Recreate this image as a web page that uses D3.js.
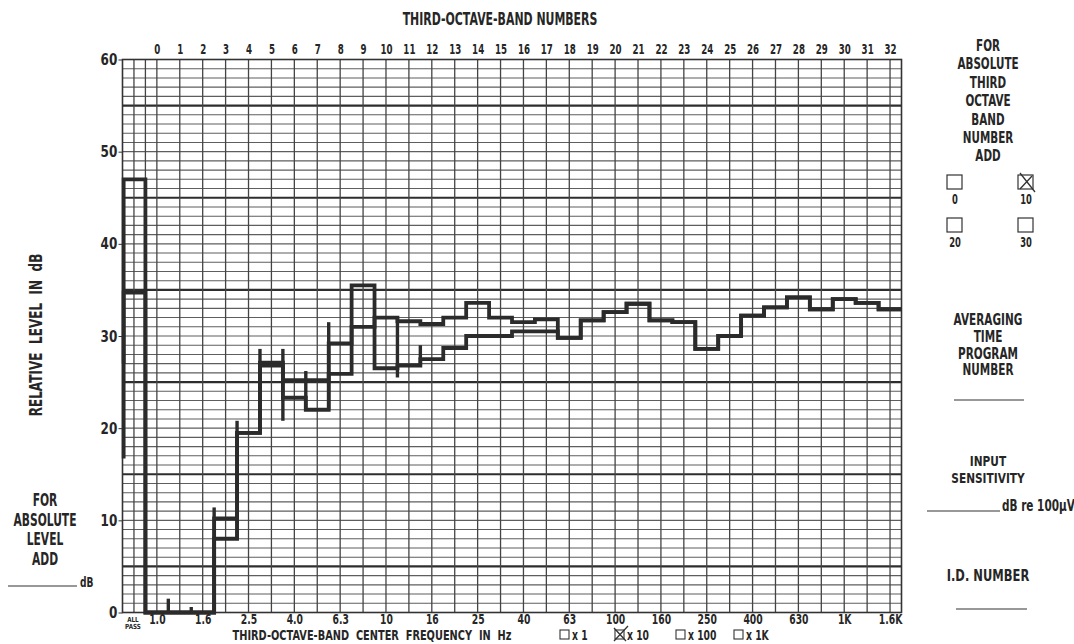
<!DOCTYPE html>
<html><head><meta charset="utf-8">
<script src="https://cdn.jsdelivr.net/npm/d3@7"></script>
<style>
html,body{margin:0;padding:0;background:#fff;}
svg text{font-family:"DejaVu Sans",sans-serif;font-weight:bold;fill:#262626;}
</style></head><body>
<svg id="chart" width="1074" height="644"></svg>
<script>
// ---- data ----
const bandNumbers = d3.range(0, 33);                 // third-octave band numbers along the top
const bands = d3.range(-1, 33);                      // -1 = ALL PASS column, then bands 0..32
const freqBands = d3.range(0, 33, 2);
const freqLabels = ["1.0","1.6","2.5","4.0","6.3","10","16","25","40","63","100","160","250","400","630","1K","1.6K"];
const levelTicks = [0, 10, 20, 30, 40, 50, 60];
// relative level (dB) per band, index 0 = ALL PASS
const traceA = [47, 0, 0, 0, 8, 19.5, 27.1, 23.3, 22.0, 29.2, 35.5, 26.5, 26.8, 27.5, 28.7, 30.0, 30.0, 30.5, 30.5, 29.8, 31.7, 32.6, 33.5, 31.7, 31.5, 28.6, 30.0, 32.2, 33.1, 34.2, 32.9, 34.0, 33.6, 32.9];
const traceB = [34.7, 0, 0, 0, 10.2, 19.5, 26.8, 25.2, 25.2, 25.9, 31.0, 32.0, 31.6, 31.3, 32.0, 33.6, 32.0, 31.5, 31.8, 29.8, 31.7, 32.6, 33.5, 31.7, 31.5, 28.6, 30.0, 32.2, 33.1, 34.2, 32.9, 34.0, 33.6, 32.9];
const traceStart = [16.7, 27];   // pen starting level at the left edge
// pen overshoot marks at band boundaries: [boundary, low dB, high dB]
const overshoots = [[0.5, 0, 1.5], [1.5, 0, 0.6], [2.5, 0, 11.4], [3.5, 7.9, 20.8], [4.5, 19.5, 28.6],
  [5.5, 20.8, 28.6], [6.5, 21.9, 26.2], [7.5, 22.0, 31.5], [10.5, 25.5, 32.0], [11.5, 26.8, 29.0]];
const multipliers = ["x 1", "x 10", "x 100", "x 1K"];
const multChecked = [false, true, false, false];
const bandAddLabels = ["0", "10", "20", "30"];
const bandAddChecked = [false, true, false, false];

// ---- layout ----
const svg = d3.select("#chart");
const x = d3.scaleLinear().domain([-1.5, 32.5]).range([122.5, 901.5]);
const y = d3.scaleLinear().domain([0, 60]).range([612.5, 59.5]);

function label(px, py, txt, size, sx, anchor) {
  return svg.append("text")
    .attr("transform", `translate(${px},${py}) scale(${sx},1)`)
    .attr("text-anchor", anchor || "middle")
    .attr("font-size", size)
    .style("white-space", "pre")
    .text(txt);
}

// grid
const grid = svg.append("g");
const dbLines = d3.range(1, 60);
grid.selectAll("line.h").data(dbLines).join("line")
  .attr("x1", x(-1.5)).attr("x2", x(32.5))
  .attr("y1", d => y(d)).attr("y2", d => y(d))
  .attr("stroke", d => d % 10 === 5 ? "#2e2e2e" : "#5e5e5e")
  .attr("stroke-width", d => d % 10 === 5 ? 2.2 : 1.1);
const vLines = [-1, -0.5].concat(bandNumbers);
grid.selectAll("line.v").data(vLines).join("line")
  .attr("x1", d => x(d)).attr("x2", d => x(d))
  .attr("y1", y(60)).attr("y2", y(0))
  .attr("stroke", "#444").attr("stroke-width", 1.3);
grid.append("rect").attr("x", x(-1.5)).attr("y", y(60))
  .attr("width", x(32.5) - x(-1.5)).attr("height", y(0) - y(60))
  .attr("fill", "none").attr("stroke", "#333").attr("stroke-width", 1.6);

// axes
const yAxis = d3.axisLeft(y).tickValues(levelTicks).tickSize(4).tickPadding(3);
svg.append("g").attr("transform", `translate(${x(-1.5)},0)`).call(yAxis)
  .call(g => g.select(".domain").remove())
  .call(g => g.selectAll("line").attr("stroke", "#333"))
  .call(g => g.selectAll("text").attr("font-size", 16).attr("transform", "scale(0.75,1)"));

const topAxis = d3.axisTop(x).tickValues(bandNumbers).tickSize(0).tickPadding(6);
svg.append("g").attr("transform", `translate(0,${y(60)})`).call(topAxis)
  .call(g => g.select(".domain").remove())
  .call(g => g.selectAll("text").attr("font-size", 14).attr("transform", "scale(0.62,1)"));

const botAxis = d3.axisBottom(x).tickValues(freqBands).tickSize(0).tickPadding(2)
  .tickFormat((d, i) => freqLabels[i]);
svg.append("g").attr("transform", `translate(0,${y(0)})`).call(botAxis)
  .call(g => g.select(".domain").remove())
  .call(g => g.selectAll("text").attr("font-size", 14).attr("transform", "scale(0.66,1)"));

label(x(-1) - 1, 622, "ALL", 7, 0.8);
label(x(-1) - 1, 629, "PASS", 7, 0.8);

// titles
label(500, 25, "THIRD-OCTAVE-BAND NUMBERS", 17.5, 0.625);
label(372, 640, "THIRD-OCTAVE-BAND  CENTER  FREQUENCY  IN  Hz", 14, 0.7);
svg.append("text").attr("transform", "translate(42,335) rotate(-90) scale(0.71,1)").attr("text-anchor", "middle")
  .attr("font-size", 17).style("white-space", "pre").text("RELATIVE  LEVEL  IN  dB");

// multipliers
const multX = [560, 615, 676, 734];
multipliers.forEach((m, i) => {
  svg.append("rect").attr("x", multX[i]).attr("y", 630).attr("width", 9).attr("height", 9)
    .attr("fill", "none").attr("stroke", "#333").attr("stroke-width", 1.1);
  if (multChecked[i]) {
    svg.append("path").attr("d", `M${multX[i]-1},${628}L${multX[i]+11},${641}M${multX[i]-1},${641}L${multX[i]+13},${626}`)
      .attr("stroke", "#333").attr("stroke-width", 1.3);
  }
  label(multX[i] + 12, 640, m, 14, 0.66, "start");
});

// left annotation
["FOR", "ABSOLUTE", "LEVEL", "ADD"].forEach((t, i) => label(45, 506 + i * 19.5, t, 17, 0.63));
svg.append("line").attr("x1", 8).attr("x2", 77).attr("y1", 586).attr("y2", 586).attr("stroke", "#333").attr("stroke-width", 1.2);
label(80, 587, "dB", 14, 0.65, "start");

// right panel
const rc = 988;
["FOR", "ABSOLUTE", "THIRD", "OCTAVE", "BAND", "NUMBER", "ADD"].forEach((t, i) => label(rc, 51 + i * 18.4, t, 16, 0.65));
const boxPos = [[947, 175], [1018, 175], [947, 218], [1018, 218]];
bandAddLabels.forEach((t, i) => {
  const [bx, by] = boxPos[i];
  svg.append("rect").attr("x", bx).attr("y", by).attr("width", 15).attr("height", 14)
    .attr("fill", "none").attr("stroke", "#333").attr("stroke-width", 1.2);
  if (bandAddChecked[i]) {
    svg.append("path").attr("d", `M${bx+2},${by-2}L${bx+17},${by+17}M${bx+2},${by+14}L${bx+14},${by+1}`)
      .attr("stroke", "#333").attr("stroke-width", 1.3);
  }
  label(bx + 8, by + 29, t, 14, 0.6);
});
["AVERAGING", "TIME", "PROGRAM", "NUMBER"].forEach((t, i) => label(rc, 325 + i * 16.8, t, 15, 0.7));
svg.append("line").attr("x1", 954).attr("x2", 1024).attr("y1", 400).attr("y2", 400).attr("stroke", "#333").attr("stroke-width", 1.2);
["INPUT", "SENSITIVITY"].forEach((t, i) => label(rc, 466 + i * 17, t, 14.5, 0.73));
svg.append("line").attr("x1", 927).attr("x2", 1000).attr("y1", 511).attr("y2", 511).attr("stroke", "#333").attr("stroke-width", 1.2);
label(1002, 511, "dB re 100\u03bcV", 15, 0.7, "start");
label(rc, 581, "I.D. NUMBER", 16, 0.72);
svg.append("line").attr("x1", 956).attr("x2", 1027).attr("y1", 609).attr("y2", 609).attr("stroke", "#333").attr("stroke-width", 1.2);

// traces
const line = d3.line().x(d => x(d[0])).y(d => y(d[1]));
function stepPoints(vals, start) {
  const pts = [[-1.45, start]];
  bands.forEach((b, i) => {
    const lo = i === 0 ? -1.45 : b - 0.5;
    pts.push([lo, vals[i]], [b + 0.5, vals[i]]);
  });
  return pts;
}
const traces = svg.append("g");
[traceA, traceB].forEach((t, k) => {
  traces.append("path").attr("d", line(stepPoints(t, traceStart[k])))
    .attr("fill", "none").attr("stroke", "#2b2b2b").attr("stroke-width", 3.8)
    .attr("stroke-linejoin", "miter").attr("stroke-linecap", "butt");
});
traces.selectAll("line.os").data(overshoots).join("line")
  .attr("x1", d => x(d[0])).attr("x2", d => x(d[0]))
  .attr("y1", d => y(d[1])).attr("y2", d => y(d[2]))
  .attr("stroke", "#2b2b2b").attr("stroke-width", 3.4);
</script>
</body></html>
